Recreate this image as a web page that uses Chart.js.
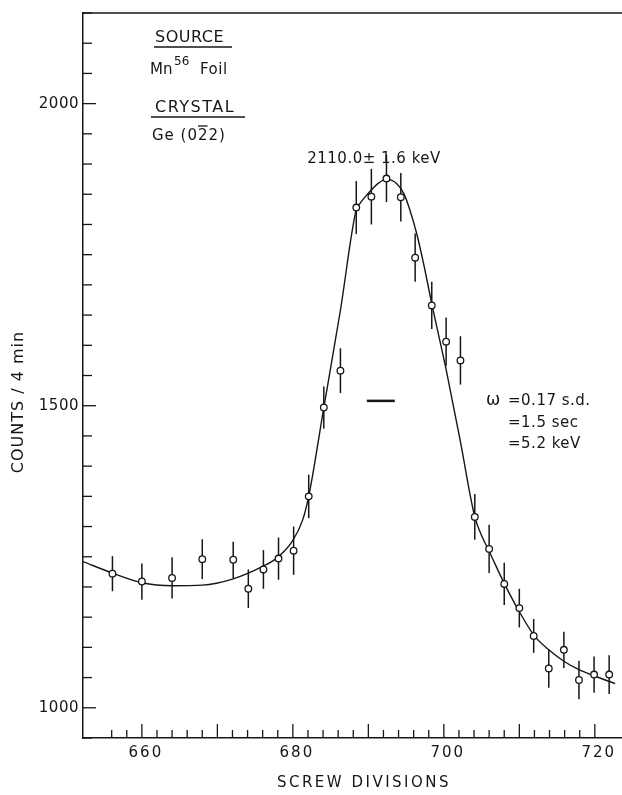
<!DOCTYPE html>
<html lang="en">
<head>
<meta charset="UTF-8">
<title>Mn56 - Ge (022)</title>
<script src="https://cdn.jsdelivr.net/npm/chart.js"></script>
<style>
    body { margin: 0; background: #fff; }
    canvas { display: block; }
</style>
</head>
<body>
<canvas id="grafico" width="622" height="795"></canvas>
<script>
// measured points: screw divisions / counts per 4 min / error (half bar)
var divisoes = [656.1, 660, 664, 668, 672.1, 674.1, 676.1, 678.1, 680.1, 682.1, 684.1, 686.3, 688.4, 690.4, 692.4,
    694.3, 696.2, 698.4, 700.3, 702.2, 704.1, 706, 708, 710, 711.9, 713.9, 715.9, 717.9, 719.9, 721.9];
var contagens = [1222, 1209, 1215, 1246, 1245, 1197, 1229, 1247, 1260, 1350, 1497, 1558, 1828, 1846, 1876,
    1845, 1745, 1666, 1606, 1575, 1316, 1263, 1205, 1165, 1119, 1065, 1096, 1046, 1055, 1055];
var erros = [29, 30, 34, 33, 30, 32, 32, 35, 40, 36, 35, 37, 44, 46, 39,
    40, 40, 39, 40, 40, 38, 40, 35, 32, 28, 32, 30, 32, 30, 32];

// fitted line
var curvaX = [652.2, 656.1, 660, 664, 668, 672, 676, 678, 680, 681.3, 682.1, 684.1, 686.3, 688.4, 688.9, 689.8,
    691.3, 692.4, 693.8, 694.7, 695.5, 696.4, 697.3, 698.4, 700.3, 702.2, 704.1, 705, 706, 708, 710, 712,
    713.9, 715.9, 717.9, 719.9, 722.7];
var curvaY = [1242, 1223, 1207, 1202, 1203, 1213, 1234, 1249, 1277, 1311, 1350, 1497, 1658, 1825, 1835, 1849,
    1868, 1875, 1867, 1851, 1824, 1785, 1736, 1669, 1560, 1440, 1316, 1285, 1259, 1206, 1159, 1119,
    1096, 1077, 1063, 1053, 1040];

var xTickLabels = [660, 680, 700, 720];
var yTickLabels = [1000, 1500, 2000];

// short resolution bar under the peak
var barraX = [689.8, 693.5];
var barraY = 1508;

const tinta = '#161616';
const fonte = '"DejaVu Sans", sans-serif';

function texto(ctx, s, x, y, tam, esp) {
    ctx.font = tam + 'px ' + fonte;
    ctx.letterSpacing = (esp || 0) + 'px';
    ctx.fillText(s, x, y);
}

function linha(ctx, x1, y1, x2, y2, w) {
    ctx.lineWidth = w;
    ctx.beginPath();
    ctx.moveTo(x1, y1);
    ctx.lineTo(x2, y2);
    ctx.stroke();
}

const extras = {
    id: 'extras',
    beforeDatasetsDraw(chart) {
        const ctx = chart.ctx, x = chart.scales.x, y = chart.scales.y;
        ctx.save();
        ctx.strokeStyle = tinta;
        divisoes.forEach((d, i) => {
            const px = x.getPixelForValue(d);
            linha(ctx, px, y.getPixelForValue(contagens[i] - erros[i]), px, y.getPixelForValue(contagens[i] + erros[i]), 1.5);
        });
        ctx.restore();
    },
    afterDraw(chart) {
        const ctx = chart.ctx, x = chart.scales.x, y = chart.scales.y, area = chart.chartArea;
        ctx.save();
        ctx.strokeStyle = tinta;
        ctx.fillStyle = tinta;

        // top frame line
        linha(ctx, area.left, area.top, area.right, area.top, 1.5);

        // inward ticks
        x.ticks.forEach(t => {
            const v = t.value;
            if (Math.abs(v / 2 - Math.round(v / 2)) > 1e-6) return;
            const px = x.getPixelForValue(v);
            const comp = Math.abs(v / 10 - Math.round(v / 10)) < 1e-6 ? 14 : 8;
            linha(ctx, px, area.bottom, px, area.bottom - comp, 1.3);
        });
        y.ticks.forEach(t => {
            const v = t.value;
            if (Math.abs(v / 50 - Math.round(v / 50)) > 1e-6) return;
            const py = y.getPixelForValue(v);
            const comp = v % 500 === 0 ? 13 : 9;
            linha(ctx, area.left, py, area.left + comp, py, 1.3);
        });

        // tick labels
        ctx.textBaseline = 'middle';
        ctx.textAlign = 'right';
        yTickLabels.forEach(v => texto(ctx, String(v), area.left - 4, y.getPixelForValue(v), 15, 0.5));
        ctx.textAlign = 'center';
        ctx.textBaseline = 'top';
        xTickLabels.forEach(v => texto(ctx, String(v), x.getPixelForValue(v) + 4, 746, 15, 2));

        // axis titles
        texto(ctx, 'SCREW DIVISIONS', 364, 776, 15, 2.5);
        ctx.save();
        ctx.translate(19, 402);
        ctx.rotate(-Math.PI / 2);
        ctx.textBaseline = 'middle';
        texto(ctx, 'COUNTS / 4 min', 0, 0, 16, 1);
        ctx.restore();

        // source / crystal block
        ctx.textAlign = 'left';
        ctx.textBaseline = 'alphabetic';
        texto(ctx, 'SOURCE', 155, 42, 16, 0.5);
        linha(ctx, 154, 47, 232, 47, 1.5);
        texto(ctx, 'Mn', 150, 73.5, 15);
        texto(ctx, '56', 174, 64.5, 12);
        texto(ctx, 'Foil', 200, 73.5, 15, 0.5);
        texto(ctx, 'CRYSTAL', 155, 112, 16, 1.5);
        linha(ctx, 151, 117, 245, 117, 1.5);
        texto(ctx, 'Ge (022)', 152, 140, 15, 1);
        ctx.font = '15px ' + fonte;
        ctx.letterSpacing = '1px';
        const x0 = 152 + ctx.measureText('Ge (0').width;
        const w2 = ctx.measureText('2').width - 1;
        linha(ctx, x0, 126, x0 + w2, 126, 1.3);

        // energy
        ctx.textAlign = 'center';
        texto(ctx, '2110.0± 1.6 keV', 374, 163, 15, 0.5);

        // resolution block
        ctx.textAlign = 'left';
        texto(ctx, 'ω', 486, 405, 17);
        texto(ctx, '=0.17 s.d.', 508, 405, 15, 0.5);
        texto(ctx, '=1.5 sec', 508, 427, 15, 0.5);
        texto(ctx, '=5.2 keV', 508, 448, 15, 0.5);

        // resolution bar
        const yb = y.getPixelForValue(barraY);
        linha(ctx, x.getPixelForValue(barraX[0]), yb, x.getPixelForValue(barraX[1]), yb, 2.5);

        ctx.restore();
    }
};

new Chart(document.getElementById('grafico'), {
    type: 'line',
    data: {
        datasets: [{
            label: 'medidas',
            data: divisoes.map((d, i) => ({ x: d, y: contagens[i] })),
            showLine: false,
            pointRadius: 3.3,
            pointBackgroundColor: '#fff',
            pointBorderColor: tinta,
            pointBorderWidth: 1.3
        }, {
            label: 'ajuste',
            data: curvaX.map((d, i) => ({ x: d, y: curvaY[i] })),
            borderColor: tinta,
            borderWidth: 1.4,
            pointRadius: 0,
            cubicInterpolationMode: 'monotone',
            fill: false
        }]
    },
    options: {
        responsive: false,
        animation: false,
        devicePixelRatio: 1,
        layout: { autoPadding: false, padding: { left: 83, top: 13, right: 0, bottom: 57 } },
        plugins: { legend: { display: false }, tooltip: { enabled: false } },
        scales: {
            x: {
                type: 'linear', min: 652.2, max: 723.6,
                ticks: { display: false, stepSize: 2 },
                grid: { display: false, drawTicks: false },
                border: { display: true, color: tinta, width: 1.5 },
                afterFit(s) { s.height = 0; }
            },
            y: {
                type: 'linear', min: 950, max: 2150,
                ticks: { display: false, stepSize: 50 },
                grid: { display: false, drawTicks: false },
                border: { display: true, color: tinta, width: 1.5 },
                afterFit(s) { s.width = 0; }
            }
        }
    },
    plugins: [extras]
});
</script>
</body>
</html>
